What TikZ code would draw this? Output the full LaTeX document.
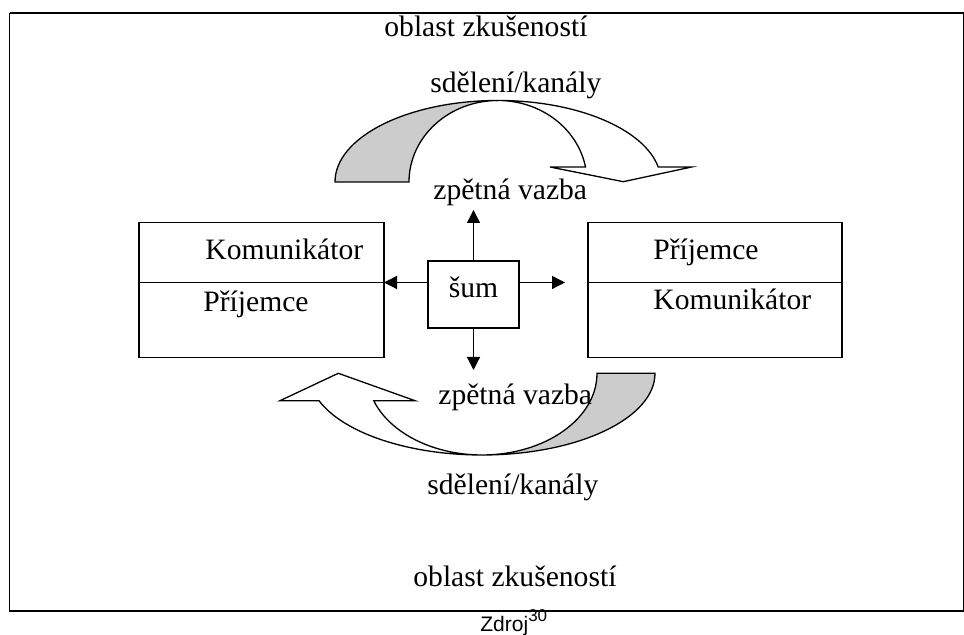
\documentclass[tikz,border=0pt]{standalone}
\usepackage{fontspec}
\setmainfont{Liberation Serif}
\newfontfamily\srcfont{Liberation Sans}
\usetikzlibrary{arrows.meta}
\definecolor{shade}{RGB}{204,204,204}
\tikzset{
  lbl/.style={anchor=base west, inner sep=0pt, font=\fontsize{14.8}{17}\selectfont},
  box/.style={draw, line width=0.65pt, inner sep=0pt, outer sep=0pt},
  arr/.style={line width=0.65pt, -{Triangle[length=6.5pt,width=6.5pt]}},
  band/.style={draw, line width=0.65pt, line join=miter}
}
\begin{document}
\begin{tikzpicture}[x=0.5pt,y=0.5pt]
\useasboundingbox (0,0) rectangle (964,635);
\draw[line width=1pt] (9.5,622) -- (964,622);
\draw[line width=0.65pt] (9.5,622) -- (9.5,24) -- (964,24);
\draw[line width=0.65pt] (963.3,622) -- (963.3,24);
\filldraw[band, fill=shade] (335,453) arc[start angle=180, end angle=90, x radius=163, y radius=81.5]
  arc[start angle=90, end angle=180, x radius=89, y radius=81.5] -- cycle;
\filldraw[band, fill=white] (498,534.5) arc[start angle=90, end angle=10.6, x radius=163, y radius=81.5]
  -- (691.7,468) -- (623.3,453.3) -- (550,468) -- (585.5,468)
  arc[start angle=10.6, end angle=90, x radius=89, y radius=81.5] -- cycle;
\filldraw[band, fill=shade] (597,261.7) arc[start angle=0, end angle=-90, x radius=115, y radius=81.7]
  arc[start angle=-90, end angle=0, x radius=173, y radius=81.7] -- cycle;
\filldraw[band, fill=white] (482,180) arc[start angle=-90, end angle=-160.4, x radius=173, y radius=81.7]
  -- (280,234.3) -- (338.3,261.7) -- (415,234.3) -- (373.7,234.3)
  arc[start angle=-160.4, end angle=-90, x radius=115, y radius=81.7] -- cycle;
\node[box, minimum width=122.5pt, minimum height=67.25pt] (boxL) at (261.5,345) {};
\node[box, minimum width=127pt, minimum height=67.25pt] (boxR) at (715,345) {};
\node[box, minimum width=45.5pt, minimum height=33.5pt, text height=10pt, text depth=6.5pt,
  font=\fontsize{14.8}{17}\selectfont] (sum) at (473.5,340.5) {šum};
\coordinate (mid) at (0,352.5);
\coordinate (upTip) at (473.5,425);
\coordinate (downTip) at (473.5,265);
\coordinate (rightTip) at (565,352.5);
\node[lbl] (oblT) at (384,598) {oblast zkušeností};
\node[lbl] (sdT) at (430,542.7) {sdělení/kanály};
\node[lbl] (zvT) at (433,435) {zpětná vazba};
\node[lbl] (komL) at (205,375) {Komunikátor};
\node[lbl] (priL) at (203,323.5) {Příjemce};
\node[lbl] (priR) at (653,375) {Příjemce};
\node[lbl] (komR) at (653,325) {Komunikátor};
\node[lbl] (zvB) at (438,230) {zpětná vazba};
\node[lbl] (sdB) at (427,140) {sdělení/kanály};
\node[lbl] (oblB) at (413,48.3) {oblast zkušeností};
\node[anchor=base west, inner sep=0pt, font=\srcfont\fontsize{10.5}{12}\selectfont] (src) at (480,3)
  {Zdroj\raisebox{5.2pt}{\fontsize{8.5}{9}\selectfont 30}};
\draw[line width=0.65pt] (boxL.west |- mid) -- (boxL.east |- mid);
\draw[line width=0.65pt] (boxR.west |- mid) -- (boxR.east |- mid);
\path
  (sum.north) edge [arr] (upTip)
  (sum.south) edge [arr] (downTip)
  (sum.west |- mid) edge [arr] (boxL.east |- mid)
  (sum.east |- mid) edge [arr] (rightTip)
;
\end{tikzpicture}
\end{document}
